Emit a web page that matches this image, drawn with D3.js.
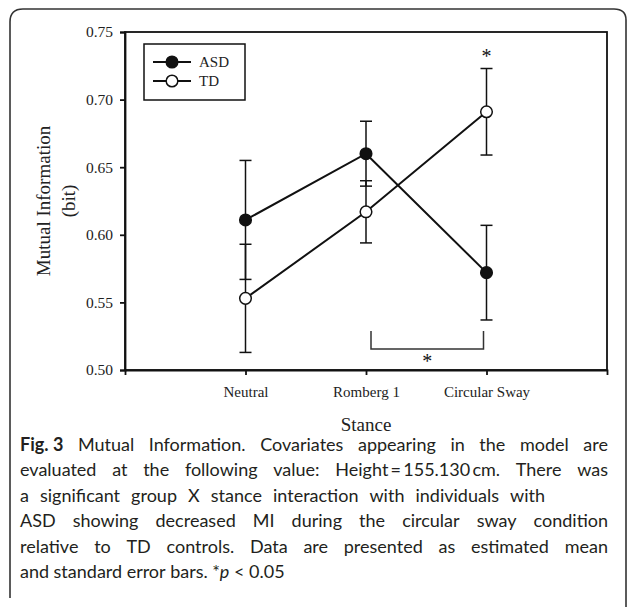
<!DOCTYPE html>
<html><head><meta charset="utf-8">
<script src="https://cdn.jsdelivr.net/npm/d3@7"></script>
<style>
html,body{margin:0;padding:0;background:#fff;}
svg{display:block;}
</style></head>
<body>
<svg id="c" width="627" height="607"></svg>
<script>
const categories = ["Neutral", "Romberg 1", "Circular Sway"];
const asdMean = [0.611, 0.660, 0.572];
const asdSE   = [0.044, 0.024, 0.035];
const tdMean  = [0.553, 0.617, 0.691];
const tdSE    = [0.040, 0.023, 0.032];
const yTicks  = [0.50, 0.55, 0.60, 0.65, 0.70, 0.75];
const seriesNames = ["ASD", "TD"];
const captionLines = [
  {words: ["Fig. 3", "Mutual", "Information.", "Covariates", "appearing", "in", "the", "model", "are"], right: 608, boldFirst: true},
  {words: ["evaluated", "at", "the", "following", "value:", "Height\u2009=\u2009155.130\u2009cm.", "There", "was"], right: 608},
  {words: ["a", "significant", "group", "X", "stance", "interaction", "with", "individuals", "with"], right: 545},
  {words: ["ASD", "showing", "decreased", "MI", "during", "the", "circular", "sway", "condition"], right: 608},
  {words: ["relative", "to", "TD", "controls.", "Data", "are", "presented", "as", "estimated", "mean"], right: 608},
  {words: ["and", "standard", "error", "bars.", "*p < 0.05"], right: null, last: true}
];

const svg = d3.select("#c");
const serif = "'Liberation Serif','Times New Roman',serif";
const sans = "Lato,'Open Sans',sans-serif";
const ink = "#111";

// outer rounded frame (left, top, right edges)
svg.append("path")
  .attr("d", "M10,598 L10,22 Q10,9 23,9 L614,9 Q626,9 626,20 L626,607")
  .attr("fill", "none").attr("stroke", "#333").attr("stroke-width", 1.6);

const L = 125, R = 607, T = 32, B = 370;
const x = d3.scalePoint().domain(categories).range([L, R]).padding(1);
const y = d3.scaleLinear().domain([0.5, 0.75]).range([B, T]);

// frame box
svg.append("rect").attr("x", L).attr("y", T).attr("width", R - L).attr("height", B - T)
  .attr("fill", "none").attr("stroke", ink).attr("stroke-width", 1.8);

const yAxis = svg.append("g").attr("transform", `translate(${L},0)`)
  .call(d3.axisLeft(y).tickValues(yTicks).tickFormat(d3.format(".2f")).tickSize(5).tickPadding(7));
const xAxis = svg.append("g").attr("transform", `translate(0,${B})`)
  .call(d3.axisBottom(x).tickSize(5).tickSizeOuter(5).tickPadding(11));
[yAxis, xAxis].forEach(g => {
  g.selectAll("path,line").attr("stroke", ink).attr("stroke-width", 1.8);
  g.selectAll("text").attr("fill", "#222").style("font-family", serif);
});
yAxis.selectAll("text").style("font-size", "15.5px");
xAxis.selectAll("text").style("font-size", "15px");

// axis titles
svg.append("text").attr("transform", `translate(50,${(T + B) / 2}) rotate(-90)`)
  .attr("text-anchor", "middle").style("font-family", serif).style("font-size", "19px").attr("fill", "#222")
  .text("Mutual Information");
svg.append("text").attr("transform", `translate(75,${(T + B) / 2}) rotate(-90)`)
  .attr("text-anchor", "middle").style("font-family", serif).style("font-size", "19px").attr("fill", "#222")
  .text("(bit)");
svg.append("text").attr("x", (x(categories[1]))).attr("y", 431)
  .attr("text-anchor", "middle").style("font-family", serif).style("font-size", "19px").attr("fill", "#222")
  .text("Stance");

const series = [
  {name: seriesNames[0], mean: asdMean, se: asdSE, fill: ink},
  {name: seriesNames[1], mean: tdMean, se: tdSE, fill: "#fff"}
];
const capW = 6;
series.forEach(s => {
  const g = svg.append("g");
  categories.forEach((c, i) => {
    const cx = x(c), lo = y(s.mean[i] - s.se[i]), hi = y(s.mean[i] + s.se[i]);
    g.append("line").attr("x1", cx).attr("x2", cx).attr("y1", lo).attr("y2", hi)
      .attr("stroke", ink).attr("stroke-width", 1.5);
    [lo, hi].forEach(v => g.append("line").attr("x1", cx - capW).attr("x2", cx + capW)
      .attr("y1", v).attr("y2", v).attr("stroke", ink).attr("stroke-width", 1.5));
  });
});
series.forEach(s => {
  svg.append("path").datum(s.mean)
    .attr("d", d3.line().x((d, i) => x(categories[i])).y(d => y(d)))
    .attr("fill", "none").attr("stroke", ink).attr("stroke-width", 2);
});
series.forEach(s => {
  svg.append("g").selectAll("circle").data(s.mean).join("circle")
    .attr("cx", (d, i) => x(categories[i])).attr("cy", d => y(d)).attr("r", 5.8)
    .attr("fill", s.fill).attr("stroke", ink).attr("stroke-width", 1.5);
});

// significance markers
svg.append("text").attr("x", x(categories[2])).attr("y", y(tdMean[2] + tdSE[2]) - 6)
  .attr("text-anchor", "middle").style("font-family", serif).style("font-size", "20px").attr("fill", ink).text("*");
const bx1 = x(categories[1]) + 5, bx2 = x(categories[2]) - 3;
svg.append("path").attr("d", `M${bx1},331 L${bx1},349 L${bx2},349 L${bx2},331`)
  .attr("fill", "none").attr("stroke", "#333").attr("stroke-width", 1.5);
svg.append("text").attr("x", (bx1 + bx2) / 2).attr("y", 368)
  .attr("text-anchor", "middle").style("font-family", serif).style("font-size", "20px").attr("fill", ink).text("*");

// legend
svg.append("rect").attr("x", 144).attr("y", 44).attr("width", 101).attr("height", 56)
  .attr("fill", "#fff").attr("stroke", ink).attr("stroke-width", 1.5);
series.forEach((s, i) => {
  const ly = 62 + i * 19;
  svg.append("line").attr("x1", 153).attr("x2", 191).attr("y1", ly).attr("y2", ly)
    .attr("stroke", ink).attr("stroke-width", 2);
  svg.append("circle").attr("cx", 172).attr("cy", ly).attr("r", 5.8)
    .attr("fill", s.fill).attr("stroke", ink).attr("stroke-width", 1.5);
  svg.append("text").attr("x", 199).attr("y", ly + 5).style("font-family", serif).style("font-size", "15px")
    .attr("fill", "#222").text(s.name);
});

// caption
const capX = 20, capY0 = 451, capDY = 25.4, capFs = 18;
captionLines.forEach((ln, li) => {
  const by = capY0 + li * capDY;
  const g = svg.append("g");
  const nodes = ln.words.map((w, wi) => {
    const t = g.append("text").attr("y", by).style("font-family", sans).style("font-size", capFs + "px").attr("fill", "#231f20");
    if (ln.boldFirst && wi === 0) t.style("font-weight", "700");
    if (ln.last && w.startsWith("*p")) {
      t.append("tspan").text("*");
      t.append("tspan").style("font-style", "italic").text("p");
      t.append("tspan").text(" < 0.05");
    } else t.text(w);
    return t;
  });
  const widths = nodes.map(n => n.node().getComputedTextLength());
  const total = d3.sum(widths);
  const gap = ln.right ? (ln.right - capX - total) / (nodes.length - 1) : capFs * 0.25;
  let cx = capX;
  nodes.forEach((n, i) => { n.attr("x", cx); cx += widths[i] + gap; });
});
</script>
</body></html>
